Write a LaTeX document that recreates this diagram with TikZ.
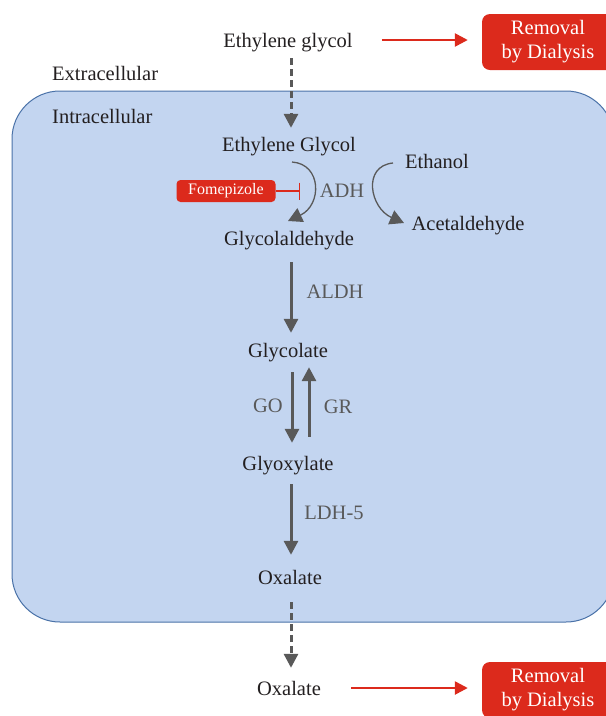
\documentclass[tikz,border=0pt]{standalone}
\usepackage{fontspec}
\setmainfont{Liberation Serif}
\usetikzlibrary{arrows.meta, positioning, calc}

\definecolor{cellfill}{HTML}{C3D5F0}
\definecolor{cellline}{HTML}{4A72A8}
\definecolor{dialred}{HTML}{DC2A1C}
\definecolor{stepgray}{HTML}{595959}
\definecolor{txt}{HTML}{231F20}

\tikzset{
  metab/.style={inner sep=0pt, anchor=base, text height=14pt, text depth=5pt,
                text=txt, font=\fontsize{20.5}{24}\selectfont},
  enzyme/.style={inner sep=0pt, text=stepgray, font=\fontsize{20.5}{24}\selectfont},
  conv/.style={draw=stepgray, line width=3pt, -{Triangle[width=14pt,length=14pt]}},
  transp/.style={conv, dash pattern=on 7pt off 4pt},
  bendarrow/.style={draw=stepgray, line width=1.3pt, -{Triangle[width=15pt,length=14pt]}},
  dialysis/.style={fill=dialred, rounded corners=8pt, minimum width=132pt,
                   minimum height=56pt, text=white, align=center,
                   font=\fontsize{20.5}{24}\selectfont},
  toremove/.style={draw=dialred, line width=2.5pt, -{Triangle[width=13pt,length=13pt]}},
  inhibit/.style={draw=dialred, line width=1.5pt, -{Bar[width=17pt]}}
}

\begin{document}
\begin{tikzpicture}[x=1pt, y=-1pt]
    \useasboundingbox (0,0) rectangle (606,716);

    % Cell compartment
    \draw[cellline, fill=cellfill, line width=1pt, rounded corners=48pt] (12,91) rectangle (614,622);
    \node[metab, anchor=base west] (extra) at (52,80) {Extracellular};
    \node[metab, anchor=base west] (intra) at (52,123) {Intracellular};

    % Metabolites along the main pathway
    \node[metab] (eg)    at (288,47)  {Ethylene glycol};
    \node[metab] (EG)    at (289,151) {Ethylene Glycol};
    \node[metab] (gald)  at (289,245) {Glycolaldehyde};
    \node[metab] (glyc)  at (288,357) {Glycolate};
    \node[metab] (glyox) at (288,470) {Glyoxylate};
    \node[metab] (oxin)  at (290,584) {Oxalate};
    \node[metab] (oxout) at (289,695) {Oxalate};

    % Ethanol side reaction
    \node[metab] (etoh) at (437,168) {Ethanol};
    \node[metab] (acet) at (468,230) {Acetaldehyde};

    % Enzymes
    \node[enzyme] (adh)  at (342,191) {ADH};
    \node[enzyme] (aldh) at (335,292) {ALDH};
    \node[enzyme] (go)   at (268,406) {GO};
    \node[enzyme] (gr)   at (338,407) {GR};
    \node[enzyme] (ldh)  at (334,513) {LDH-5};

    % Dialysis boxes
    \node[dialysis] (dtop) at (548,42)  {Removal\\by Dialysis};
    \node[dialysis] (dbot) at (548,690) {Removal\\by Dialysis};

    % Fomepizole inhibitor
    \node[fill=dialred, rounded corners=4pt, minimum width=99pt, minimum height=22pt,
          inner sep=0pt, text=white, font=\fontsize{16}{18}\selectfont] (fom) at (226,191) {Fomepizole};
    \coordinate (block) at (300,191);
    \draw[inhibit] (fom.east) -- (block);

    % Transport across the membrane
    \draw[transp, shorten <=6pt, shorten >=9pt] ([xshift=3pt]eg.south) -- ([xshift=2pt]EG.north);
    \draw[transp, shorten <=13pt, shorten >=13pt] ([xshift=1pt]oxin.south) -- ([xshift=2pt]oxout.north);

    % Enzymatic steps
    \draw[conv, shorten <=12pt, shorten >=10pt] ([xshift=2pt]gald.south) -- ([xshift=3pt]glyc.north);
    \draw[conv, shorten <=10pt, shorten >=13pt] ([xshift=4pt]glyc.south) -- ([xshift=4pt]glyox.north);
    \draw[conv, shorten <=19pt, shorten >=5pt] ([xshift=21pt]glyox.north) -- ([xshift=21pt]glyc.south);
    \draw[conv, shorten <=9pt, shorten >=15pt] ([xshift=3pt]glyox.south) -- ([xshift=1pt]oxin.north);

    % ADH curved arrows
    \coordinate (adhin)  at (292,162);
    \coordinate (adhout) at (288,221);
    \draw[bendarrow] (adhin) .. controls (322,164) and (322,205) .. (adhout);
    \coordinate (etin)  at (393,163);
    \coordinate (etout) at (404,223);
    \draw[bendarrow] (etin) .. controls (362,166) and (370,208) .. (etout);

    % Removal by dialysis
    \draw[toremove, shorten <=29pt, shorten >=14pt] ([yshift=2.5pt]eg.east) -- ([yshift=2.5pt]eg.east -| dtop.west);
    \draw[toremove, shorten <=30pt, shorten >=14pt] ([yshift=2.5pt]oxout.east) -- ([yshift=2.5pt]oxout.east -| dbot.west);

\end{tikzpicture}
\end{document}
